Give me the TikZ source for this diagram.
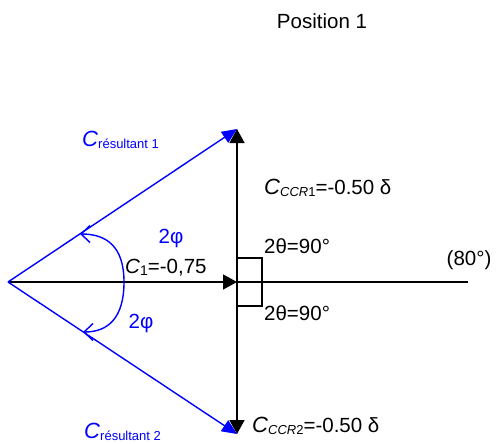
\documentclass[tikz,border=0pt]{standalone}
\usepackage{fontspec}
\setmainfont{Liberation Sans}
\usepackage{xcolor}
\usetikzlibrary{arrows.meta,calc}
\definecolor{couple-blue}{RGB}{0,0,255}
\newcommand{\Csub}[1]{{\fontsize{22}{26}\selectfont\textit{C}}\raisebox{-2pt}{\fontsize{13}{15}\selectfont #1}}

\begin{document}
\begin{tikzpicture}[x=1pt, y=-1pt,
    every node/.style={font=\fontsize{20.5}{24}\selectfont, inner sep=0pt},
    vec/.style={-{Triangle[length=14pt, width=15pt]}, line width=1.5pt},
    bluevec/.style={-{Triangle[length=15pt, width=13pt]}, draw=couple-blue, line width=1.4pt},
    anglearc/.style={-{Straight Barb[length=9pt, width=17pt]}, draw=couple-blue, line width=1.4pt}]
  \useasboundingbox (0,0) rectangle (498,444);

  % Reference points
  \coordinate (O) at (8,282);
  \coordinate (M) at (237,282);
  \coordinate (E) at (468,282);
  \coordinate (T) at (237,129);
  \coordinate (B) at (237,434);

  % Black couples
  \draw[vec] (O) -- (M);
  \draw[line width=1.5pt] (M) -- (E);
  \draw[vec] (M) -- (T);
  \draw[vec] (M) -- (B);
  \draw[line width=1.3pt] (M) ++(0,-24) rectangle ++(25,48);

  % Resultants
  \draw[bluevec] (O) -- (T);
  \draw[bluevec] (O) -- (B);
  \coordinate (A) at (124,282);
  \coordinate (A1) at (80,234);
  \coordinate (A2) at (83,332);
  \draw[anglearc] (A) .. controls (124,246) and (106,234) .. (A1);
  \draw[anglearc] (A) .. controls (124,318) and (108,332) .. (A2);

  % Labels
  \node (title) at (322,21) {Position 1};
  \node[anchor=west, text=couple-blue] (res1) at (82,140) {\Csub{résultant 1}};
  \node[anchor=west, text=couple-blue] (res2) at (84,432) {\Csub{résultant 2}};
  \node[text=couple-blue] (phi1) at (171,238) {2φ};
  \node[text=couple-blue] (phi2) at (141,323) {2φ};
  \node[anchor=west] (c1) at (125,268) {\textit{C}\raisebox{-2pt}{\fontsize{14}{16}\selectfont 1}=-0,75};
  \node[anchor=west] (ccr1) at (264,188) {\Csub{\textit{CCR}1}=-0.50 δ};
  \node[anchor=west] (ccr2) at (252,426) {\Csub{\textit{CCR}2}=-0.50 δ};
  \node[anchor=west] (th1) at (264,246) {2θ=90°};
  \node[anchor=west] (th2) at (264,313) {2θ=90°};
  \node (deg) at (469,260) {(80°)};
\end{tikzpicture}
\end{document}
